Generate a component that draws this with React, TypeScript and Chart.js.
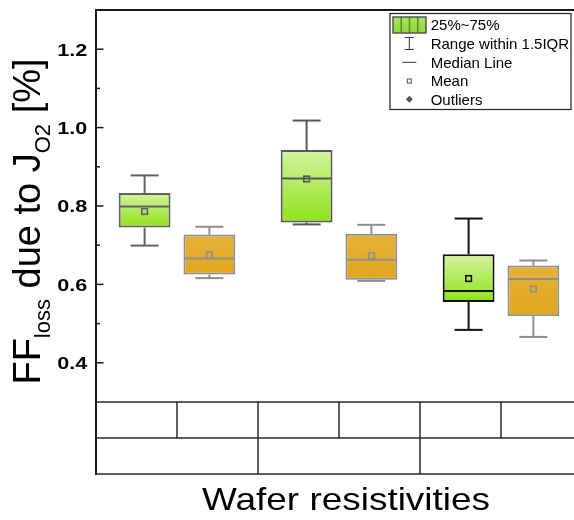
import React, { useEffect, useRef } from 'react';
import { Chart, registerables } from 'chart.js';

Chart.register(...registerables);

// ---------- data ----------
const groups = ['Group 1', 'Group 2', 'Group 3'];
const seriesNames = ['Series A', 'Series B'];

const greenQ1 = [0.745, 0.758, 0.555];
const greenQ3 = [0.833, 0.943, 0.677];
const greenMedian = [0.799, 0.870, 0.583];
const greenMean = [0.786, 0.869, 0.615];
const greenMin = [0.699, 0.753, 0.484];
const greenMax = [0.878, 1.018, 0.768];

const orangeQ1 = [0.625, 0.612, 0.519];
const orangeQ3 = [0.727, 0.729, 0.648];
const orangeMedian = [0.666, 0.663, 0.614];
const orangeMean = [0.675, 0.673, 0.588];
const orangeMin = [0.616, 0.609, 0.466];
const orangeMax = [0.747, 0.752, 0.661];

const yMin = 0.3;
const yMax = 1.3;
const yMajorTicks = [0.4, 0.6, 0.8, 1.0, 1.2];
const yTickLabels = ['0.4', '0.6', '0.8', '1.0', '1.2'];
const yMinorTicks = [0.5, 0.7, 0.9, 1.1];

const legendLabels = ['25%~75%', 'Range within 1.5IQR', 'Median Line', 'Mean', 'Outliers'];
const xTitle = 'Wafer resistivities';
const yTitleParts: [string, boolean][] = [
  ['FF', false],
  ['loss', true],
  [' due to J', false],
  ['O2', true],
  [' [%]', false],
];

// ---------- styles ----------
const FONT = '"Liberation Sans", Arial, sans-serif';
const greenBorders = ['#626262', '#585858', '#111111'];
const orangeBorders = ['#8e8e8e', '#8e8e8e', '#8e8e8e'];
const stats = [
  { min: greenMin, max: greenMax, med: greenMedian, mean: greenMean, colors: greenBorders },
  { min: orangeMin, max: orangeMax, med: orangeMedian, mean: orangeMean, colors: orangeBorders },
];

function gradientFill(top: string, bottom: string, fallback: string) {
  return (c: any) => {
    const chart = c.chart;
    if (!chart.chartArea || c.type !== 'data' || !Array.isArray(c.raw)) return fallback;
    const ys = chart.scales.y;
    const t = ys.getPixelForValue(c.raw[1]);
    const b = ys.getPixelForValue(c.raw[0]);
    if (!isFinite(t) || !isFinite(b) || t === b) return fallback;
    const g = chart.ctx.createLinearGradient(0, t, 0, b);
    g.addColorStop(0, top);
    g.addColorStop(1, bottom);
    return g;
  };
}

function line(ctx: CanvasRenderingContext2D, x1: number, y1: number, x2: number, y2: number) {
  ctx.beginPath();
  ctx.moveTo(x1, y1);
  ctx.lineTo(x2, y2);
  ctx.stroke();
}

const boxPlugin = {
  id: 'boxExtras',
  beforeDatasetsDraw(chart: any) {
    const ctx: CanvasRenderingContext2D = chart.ctx;
    const ys = chart.scales.y;
    ctx.save();
    stats.forEach((s, di) => {
      const meta = chart.getDatasetMeta(di);
      meta.data.forEach((el: any, i: number) => {
        const { x, width } = el.getProps(['x', 'width'], true);
        const cap = width * 0.54;
        const q1 = ys.getPixelForValue(di === 0 ? greenQ1[i] : orangeQ1[i]);
        const q3 = ys.getPixelForValue(di === 0 ? greenQ3[i] : orangeQ3[i]);
        const lo = ys.getPixelForValue(s.min[i]);
        const hi = ys.getPixelForValue(s.max[i]);
        ctx.strokeStyle = s.colors[i];
        ctx.lineWidth = 2;
        line(ctx, x, q3, x, hi);
        line(ctx, x, q1, x, lo);
        line(ctx, x - cap / 2, hi, x + cap / 2, hi);
        line(ctx, x - cap / 2, lo, x + cap / 2, lo);
      });
    });
    ctx.restore();
  },
  afterDatasetsDraw(chart: any) {
    const ctx: CanvasRenderingContext2D = chart.ctx;
    const ys = chart.scales.y;
    ctx.save();
    stats.forEach((s, di) => {
      const meta = chart.getDatasetMeta(di);
      meta.data.forEach((el: any, i: number) => {
        const { x, width } = el.getProps(['x', 'width'], true);
        const m = ys.getPixelForValue(s.med[i]);
        const mean = ys.getPixelForValue(s.mean[i]);
        ctx.strokeStyle = s.colors[i];
        ctx.lineWidth = 2;
        line(ctx, x - width / 2 + 1, m, x + width / 2 - 1, m);
        ctx.lineWidth = 1.6;
        ctx.strokeRect(x - 2.8, mean - 2.8, 5.6, 5.6);
      });
    });
    ctx.restore();
  },
  afterDraw(chart: any) {
    const ctx: CanvasRenderingContext2D = chart.ctx;
    const area = chart.chartArea;
    const ys = chart.scales.y;
    const xs = chart.scales.x;
    const rowH = 36;
    ctx.save();

    // frame
    ctx.strokeStyle = '#1a1a1a';
    ctx.lineWidth = 2;
    line(ctx, area.left, area.top, area.right, area.top);
    line(ctx, area.right, area.top, area.right, area.bottom + 2 * rowH);
    line(ctx, area.left, area.top - 1, area.left, area.bottom + 2 * rowH + 1);

    // table under plot
    ctx.strokeStyle = '#2a2a2a';
    ctx.lineWidth = 1.5;
    for (let r = 0; r <= 2; r++) {
      line(ctx, area.left, area.bottom + r * rowH, area.right, area.bottom + r * rowH);
    }
    const step = xs.getPixelForValue(1) - xs.getPixelForValue(0);
    groups.forEach((_, i) => {
      const c = xs.getPixelForValue(i);
      line(ctx, c, area.bottom, c, area.bottom + rowH);
      if (i < groups.length - 1) line(ctx, c + step / 2, area.bottom, c + step / 2, area.bottom + 2 * rowH);
    });

    // y ticks (inward)
    ctx.strokeStyle = '#1a1a1a';
    ctx.lineWidth = 1.5;
    yMajorTicks.forEach((v) => {
      const y = ys.getPixelForValue(v);
      line(ctx, area.left, y, area.left + 7.5, y);
    });
    yMinorTicks.forEach((v) => {
      const y = ys.getPixelForValue(v);
      line(ctx, area.left, y, area.left + 4, y);
    });

    // y tick labels
    ctx.fillStyle = '#000';
    ctx.font = `bold 17px ${FONT}`;
    ctx.textAlign = 'right';
    ctx.textBaseline = 'alphabetic';
    const tickScale = 30 / ctx.measureText('1.2').width;
    yMajorTicks.forEach((v, i) => {
      const y = ys.getPixelForValue(v);
      ctx.save();
      ctx.translate(area.left - 8.7, y + 6.3);
      ctx.scale(tickScale, 1);
      ctx.fillText(yTickLabels[i], 0, 0);
      ctx.restore();
    });

    // x title
    ctx.font = `32px ${FONT}`;
    ctx.textAlign = 'center';
    const xw = ctx.measureText(xTitle).width;
    ctx.save();
    ctx.translate(346, 510);
    ctx.scale(288 / xw, 1);
    ctx.fillText(xTitle, 0, 0);
    ctx.restore();

    // y title with subscripts
    const mainF = `38px ${FONT}`;
    const subF = `22px ${FONT}`;
    let total = 0;
    yTitleParts.forEach(([t, sub]) => {
      ctx.font = sub ? subF : mainF;
      total += ctx.measureText(t).width;
    });
    ctx.save();
    ctx.translate(40, 221.5);
    ctx.rotate(-Math.PI / 2);
    ctx.textAlign = 'left';
    let px = -total / 2;
    yTitleParts.forEach(([t, sub]) => {
      ctx.font = sub ? subF : mainF;
      ctx.fillText(t, px, sub ? 10 : 0);
      px += ctx.measureText(t).width;
    });
    ctx.restore();

    // legend
    const lx = 390, ly = 13.5, lw = 181, lh = 96;
    ctx.fillStyle = '#fff';
    ctx.fillRect(lx, ly, lw, lh);
    ctx.strokeStyle = '#222';
    ctx.lineWidth = 1.2;
    ctx.strokeRect(lx, ly, lw, lh);
    const rows = [25, 43.5, 62.3, 81, 99.3];
    const ix = 409.3;
    // swatch
    const sg = ctx.createLinearGradient(0, 17, 0, 33);
    sg.addColorStop(0, '#a8e65a');
    sg.addColorStop(1, '#8cd63a');
    ctx.fillStyle = sg;
    ctx.fillRect(393, 17, 33, 16);
    ctx.strokeStyle = '#5d8a2e';
    ctx.lineWidth = 1.5;
    for (let k = 1; k < 4; k++) line(ctx, 393 + (33 * k) / 4, 17, 393 + (33 * k) / 4, 33);
    ctx.strokeStyle = '#555';
    ctx.lineWidth = 1.5;
    ctx.strokeRect(393, 17, 33, 16);
    // whisker icon
    ctx.strokeStyle = '#333';
    ctx.lineWidth = 1;
    line(ctx, ix, 37.5, ix, 49.5);
    line(ctx, ix - 4.5, 37.5, ix + 4.5, 37.5);
    line(ctx, ix - 4.5, 49.5, ix + 4.5, 49.5);
    // median icon
    line(ctx, ix - 7, rows[2], ix + 7, rows[2]);
    // mean icon
    ctx.strokeStyle = '#555';
    ctx.strokeRect(ix - 2, rows[3] - 2, 4, 4);
    // outlier icon
    ctx.fillStyle = '#555';
    ctx.beginPath();
    ctx.moveTo(ix, rows[4] - 3.5);
    ctx.lineTo(ix + 3.5, rows[4]);
    ctx.lineTo(ix, rows[4] + 3.5);
    ctx.lineTo(ix - 3.5, rows[4]);
    ctx.closePath();
    ctx.fill();
    // legend text
    ctx.fillStyle = '#000';
    ctx.font = `15px ${FONT}`;
    ctx.textAlign = 'left';
    ctx.textBaseline = 'alphabetic';
    legendLabels.forEach((t, i) => {
      ctx.fillText(t, 430.7, rows[i] + 5.2);
    });

    ctx.restore();
  },
};

export default function App() {
  const ref = useRef<HTMLCanvasElement | null>(null);

  useEffect(() => {
    if (!ref.current) return;
    const chart = new Chart(ref.current, {
      type: 'bar',
      data: {
        labels: groups,
        datasets: [
          {
            label: seriesNames[0],
            data: greenQ1.map((q, i) => [q, greenQ3[i]]) as any,
            backgroundColor: gradientFill('#d3f4a0', '#8fe21a', '#b5ea6a') as any,
            borderColor: greenBorders,
            borderWidth: 2,
            borderSkipped: false,
            categoryPercentage: 0.8,
            barPercentage: 0.8,
          },
          {
            label: seriesNames[1],
            data: orangeQ1.map((q, i) => [q, orangeQ3[i]]) as any,
            backgroundColor: gradientFill('#e6b238', '#e2a51c', '#e4ab2a') as any,
            borderColor: orangeBorders,
            borderWidth: 2,
            borderSkipped: false,
            categoryPercentage: 0.8,
            barPercentage: 0.8,
          },
        ],
      },
      options: {
        animation: false,
        responsive: false,
        devicePixelRatio: 1,
        layout: { padding: { left: 96, top: 10, right: 18, bottom: 118 } },
        plugins: { legend: { display: false }, tooltip: { enabled: false } },
        scales: {
          x: { display: false },
          y: { display: false, min: yMin, max: yMax },
        },
      },
      plugins: [boxPlugin],
    });
    return () => chart.destroy();
  }, []);

  return (
    <div style={{ position: 'fixed', left: 0, top: 0, width: 574, height: 520, overflow: 'hidden', background: '#fff' }}>
      <canvas ref={ref} width={600} height={520} style={{ display: 'block', width: 600, height: 520 }} />
    </div>
  );
}
